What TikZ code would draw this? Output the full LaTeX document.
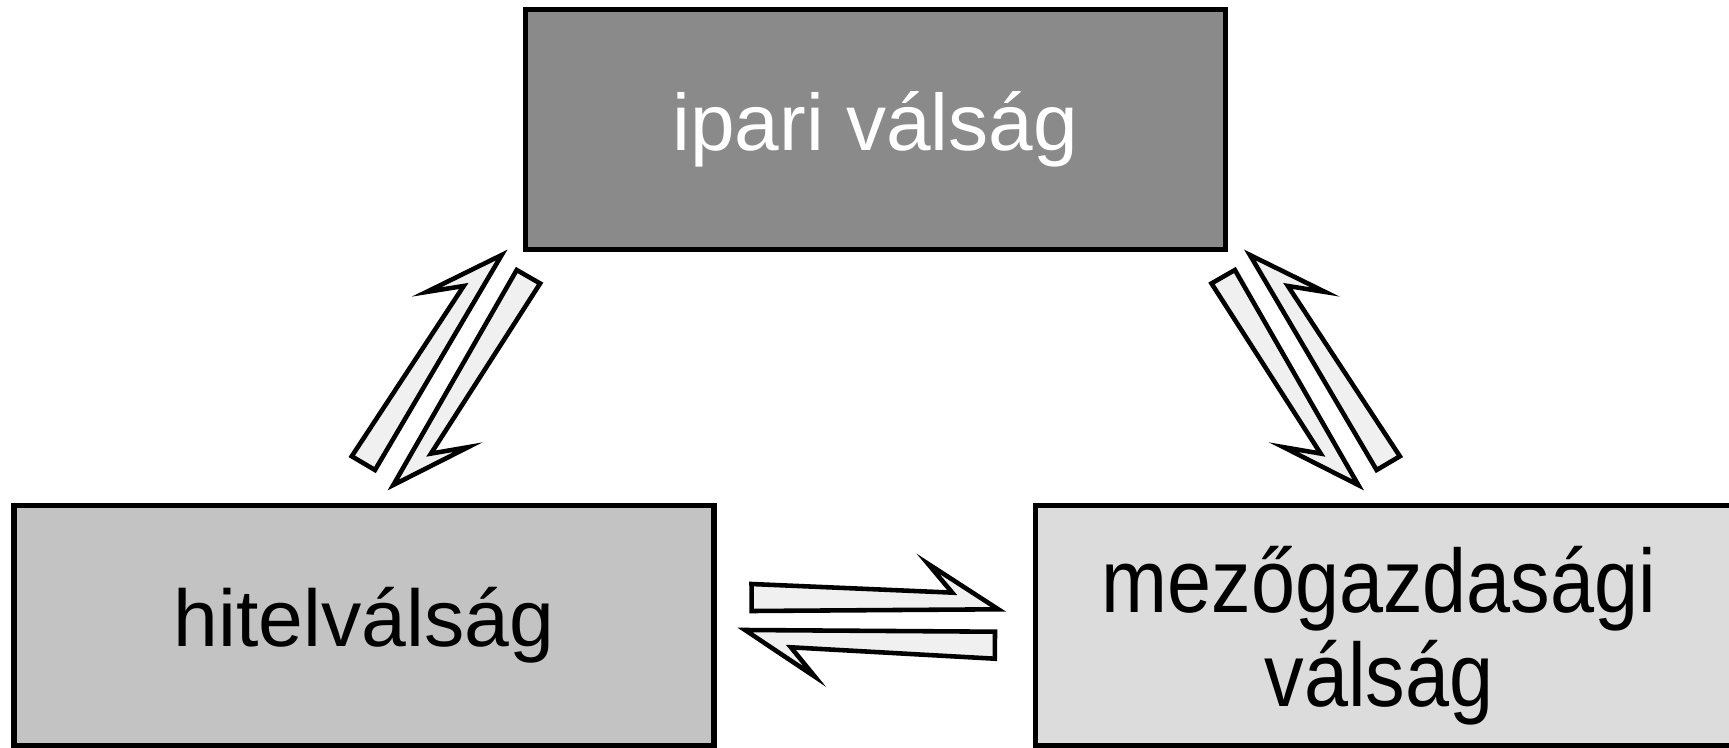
\documentclass[tikz,border=0pt]{standalone}
\usepackage{fontspec}
\setmainfont{Liberation Sans}
\newfontfamily\narrowsans{Liberation Sans}[FakeStretch=0.88]
\usetikzlibrary{calc}

\definecolor{darkbox}{gray}{0.54}
\definecolor{midbox}{gray}{0.765}
\definecolor{lightbox}{gray}{0.863}
\definecolor{arrowfill}{gray}{0.94}

% one-sided block arrow: #1 tail corner on the straight edge, #2 tip,
% #3 = 90 puts the barb on the left of the travel direction, -90 on the right
\newcommand{\halfarrow}[3]{%
  \draw[harpoon_style] let \p1=($(#2)-(#1)$), \n1={atan2(\y1,\x1)}, \n2={\n1+(#3)} in
    (#1) -- (#2)
    -- ($(#2)+(\n1+180:0.70)+(\n2:0.46)$)
    -- ($(#2)+(\n1+180:0.46)+(\n2:0.17)$)
    -- ($(#1)+(\n2:0.27)$) -- cycle;
}

\begin{document}
\begin{tikzpicture}[
    box_style/.style={draw, line width=1.5pt, minimum width=7cm, minimum height=2.4cm, inner sep=0pt},
    harpoon_style/.style={draw, fill=arrowfill, line width=1.3pt, line join=miter}
]
\useasboundingbox (0,0) rectangle (17.29,7.47);
\clip (0,0) rectangle (17.29,7.47);

% the three crises
\node[box_style, fill=darkbox, text=white, font=\fontsize{22.8}{27}\selectfont] (ipari) at (8.753,6.177) {ipari válság};
\node[box_style, fill=midbox, font=\fontsize{22.9}{27}\selectfont] (hitel) at (3.641,1.218) {hitelválság};
\node[box_style, fill=lightbox] (mezo) at (13.855,1.215) {};
\node[align=center, inner sep=0pt, font=\narrowsans\fontsize{25.6}{26.7}\selectfont] (mezo_label) at (13.79,1.115) {mezőgazdasági\\válság};

% arrow ends: tail corner / tip
\coordinate (hi_up_s) at (3.75,2.77);    \coordinate (hi_up_t) at (5.017,4.92);
\coordinate (ip_dn_s) at (5.167,4.77);   \coordinate (ip_dn_t) at (3.933,2.62);
\coordinate (ip_dr_s) at (12.349,4.77);  \coordinate (ip_dr_t) at (13.583,2.62);
\coordinate (me_up_s) at (13.766,2.77);  \coordinate (me_up_t) at (12.499,4.92);
\coordinate (hi_rt_s) at (7.517,1.36);   \coordinate (hi_rt_t) at (9.983,1.377);
\coordinate (me_lt_s) at (9.95,1.153);   \coordinate (me_lt_t) at (7.45,1.17);

\foreach \s/\t/\side in {hi_up_s/hi_up_t/90, ip_dn_s/ip_dn_t/90,
                         ip_dr_s/ip_dr_t/-90, me_up_s/me_up_t/-90,
                         hi_rt_s/hi_rt_t/90, me_lt_s/me_lt_t/90}
    \halfarrow{\s}{\t}{\side};

\end{tikzpicture}
\end{document}
